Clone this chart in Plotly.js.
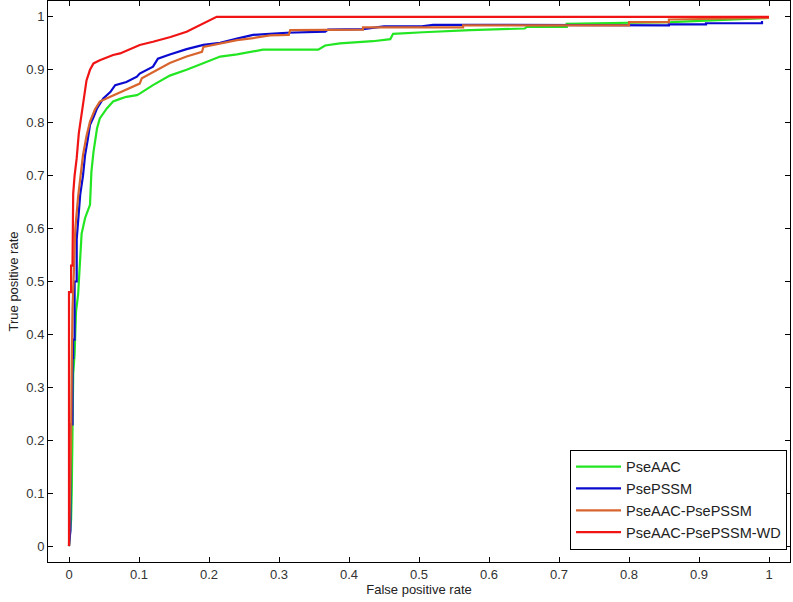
<!DOCTYPE html>
<html>
<head>
<meta charset="utf-8">
<script src="https://cdn.plot.ly/plotly-3.0.1.min.js"></script>
<style>html,body{margin:0;padding:0;background:#fff;}#chart{width:793px;height:602px;}</style>
</head>
<body>
<div id="chart"></div>
<script>
const seriesNames = ["PseAAC", "PsePSSM", "PseAAC-PsePSSM", "PseAAC-PsePSSM-WD"];
const seriesColors = ["#22e622", "#0a0ad0", "#d8642e", "#f01414"];

const pseaacFpr = [0, 0.003, 0.004, 0.005, 0.006, 0.008, 0.010, 0.013, 0.016, 0.018, 0.023, 0.030, 0.032, 0.035, 0.040, 0.044, 0.054, 0.063, 0.073, 0.082, 0.097, 0.101, 0.120, 0.144, 0.168, 0.192, 0.216, 0.240, 0.263, 0.277, 0.356, 0.366, 0.387, 0.434, 0.459, 0.463, 0.506, 0.573, 0.651, 0.654, 0.711, 0.711, 0.860, 1.0];
const pseaacTpr = [0, 0.05, 0.11, 0.23, 0.326, 0.362, 0.443, 0.475, 0.532, 0.590, 0.620, 0.645, 0.707, 0.745, 0.789, 0.808, 0.827, 0.840, 0.845, 0.849, 0.852, 0.855, 0.871, 0.889, 0.900, 0.912, 0.925, 0.929, 0.935, 0.938, 0.938, 0.946, 0.950, 0.954, 0.958, 0.968, 0.971, 0.975, 0.978, 0.981, 0.981, 0.987, 0.990, 0.998];

const psepssmFpr = [0, 0.002, 0.002, 0.005, 0.005, 0.006, 0.006, 0.008, 0.008, 0.011, 0.011, 0.016, 0.020, 0.023, 0.027, 0.030, 0.035, 0.040, 0.049, 0.059, 0.066, 0.073, 0.082, 0.097, 0.101, 0.120, 0.127, 0.144, 0.168, 0.192, 0.216, 0.240, 0.263, 0.287, 0.311, 0.366, 0.370, 0.420, 0.450, 0.504, 0.520, 0.563, 0.800, 0.857, 0.857, 0.910, 0.910, 0.990, 0.990];
const psepssmTpr = [0, 0.03, 0.23, 0.23, 0.355, 0.355, 0.39, 0.39, 0.50, 0.50, 0.58, 0.664, 0.700, 0.739, 0.770, 0.796, 0.810, 0.827, 0.846, 0.858, 0.871, 0.874, 0.877, 0.887, 0.893, 0.906, 0.921, 0.929, 0.939, 0.947, 0.951, 0.959, 0.966, 0.968, 0.970, 0.972, 0.976, 0.977, 0.982, 0.982, 0.985, 0.985, 0.984, 0.984, 0.986, 0.986, 0.988, 0.988, 0.992];

const comboFpr = [0, 0.003, 0.004, 0.005, 0.007, 0.009, 0.013, 0.016, 0.020, 0.025, 0.030, 0.037, 0.044, 0.059, 0.073, 0.082, 0.101, 0.104, 0.120, 0.144, 0.168, 0.190, 0.192, 0.216, 0.240, 0.263, 0.287, 0.314, 0.316, 0.420, 0.420, 0.563, 0.563, 0.800, 0.800, 0.857, 0.857, 1.0];
const comboTpr = [0, 0.20, 0.35, 0.45, 0.52, 0.60, 0.66, 0.70, 0.739, 0.775, 0.802, 0.825, 0.840, 0.849, 0.857, 0.862, 0.874, 0.884, 0.896, 0.913, 0.925, 0.934, 0.943, 0.949, 0.956, 0.960, 0.965, 0.966, 0.975, 0.976, 0.980, 0.980, 0.984, 0.984, 0.990, 0.990, 0.995, 0.998];

const wdFpr = [0, 0, 0.003, 0.003, 0.005, 0.005, 0.006, 0.008, 0.011, 0.014, 0.018, 0.022, 0.025, 0.030, 0.035, 0.044, 0.063, 0.073, 0.101, 0.120, 0.145, 0.168, 0.185, 0.201, 0.211, 1.0];
const wdTpr = [0, 0.48, 0.48, 0.53, 0.53, 0.585, 0.666, 0.700, 0.733, 0.780, 0.820, 0.860, 0.880, 0.900, 0.912, 0.918, 0.928, 0.931, 0.947, 0.953, 0.962, 0.972, 0.983, 0.994, 1.0, 1.0];

const tickVals = [0, 0.1, 0.2, 0.3, 0.4, 0.5, 0.6, 0.7, 0.8, 0.9, 1];
const tickText = ["0", "0.1", "0.2", "0.3", "0.4", "0.5", "0.6", "0.7", "0.8", "0.9", "1"];

const xs = [pseaacFpr, psepssmFpr, comboFpr, wdFpr];
const ys = [pseaacTpr, psepssmTpr, comboTpr, wdTpr];

const traces = seriesNames.map((n, i) => ({
  type: "scatter", mode: "lines", name: n,
  x: xs[i], y: ys[i],
  line: {color: seriesColors[i], width: 2.2}
}));

const axisCommon = {
  showline: true, linecolor: "#000", linewidth: 1, mirror: "ticks",
  ticks: "inside", ticklen: 5, tickcolor: "#000", tickwidth: 1,
  showgrid: false, zeroline: false,
  tickvals: tickVals, ticktext: tickText,
  tickfont: {family: "Liberation Sans, Arial, sans-serif", size: 13, color: "#333"}
};

const layout = {
  width: 793, height: 602,
  margin: {l: 48, r: 3, t: 1, b: 40},
  paper_bgcolor: "#fff", plot_bgcolor: "#fff",
  showlegend: true,
  xaxis: Object.assign({}, axisCommon, {
    range: [-0.03, 1.03],
    title: {text: "False positive rate", standoff: 4, font: {family: "Liberation Sans, Arial, sans-serif", size: 13, color: "#222"}}
  }),
  yaxis: Object.assign({}, axisCommon, {
    range: [-0.03, 1.03],
    title: {text: "True positive rate", standoff: 4, font: {family: "Liberation Sans, Arial, sans-serif", size: 13, color: "#222"}}
  }),
  legend: {
    x: 0.996, y: 0.022, xanchor: "right", yanchor: "bottom",
    bgcolor: "#fff", bordercolor: "#000", borderwidth: 1,
    font: {family: "Liberation Sans, Arial, sans-serif", size: 14.5, color: "#222"},
    itemwidth: 45, tracegroupgap: 0
  }
};

Plotly.newPlot("chart", traces, layout, {displayModeBar: false, staticPlot: true});
</script>
</body>
</html>
